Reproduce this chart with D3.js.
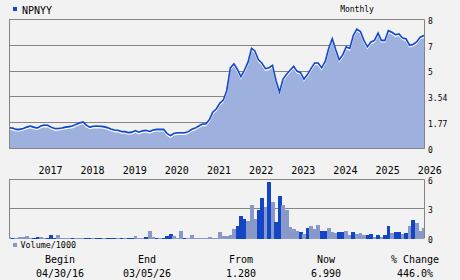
<!DOCTYPE html>
<html><head><meta charset="utf-8">
<script src="https://cdn.jsdelivr.net/npm/d3@7"></script>
<style>
body{margin:0;background:#f2f2f2;}
svg{display:block;}
text{font-family:"DejaVu Sans Mono",monospace;fill:#000;}
</style>
</head><body><svg id="c" width="460" height="280"></svg>
<script>
const symbol = "NPNYY";
const periodLabel = "Monthly";
const startDate = "2016-04-30";
const endDate = "2026-03-05";
const priceValues = [
1.29,1.27,1.19,1.19,1.25,1.33,1.40,1.33,1.28,1.40,
1.46,1.45,1.33,1.24,1.24,1.28,1.33,1.36,1.40,1.50,
1.58,1.65,1.45,1.33,1.38,1.40,1.38,1.36,1.30,1.22,
1.15,1.14,1.06,1.05,0.99,1.02,1.12,1.02,1.10,1.13,
1.06,1.15,1.19,1.19,1.19,0.92,0.80,0.95,0.98,0.98,
0.98,1.05,1.20,1.27,1.40,1.52,1.52,1.80,2.25,2.45,
2.80,3.00,3.60,5.00,5.25,4.90,4.45,4.85,5.35,6.20,
6.05,5.50,5.30,4.95,5.00,5.15,4.20,3.50,4.30,4.60,
4.85,5.10,4.80,4.70,4.30,4.60,4.95,5.30,5.30,5.00,
5.40,6.20,6.80,6.10,5.50,5.80,6.30,6.20,7.00,7.40,
7.25,6.70,6.30,6.60,6.70,7.15,6.70,6.70,7.30,7.20,
7.05,7.10,6.85,6.80,6.40,6.45,6.60,6.90,7.00
];
const volumeValues = [
0.17,0.10,0.07,0.12,0.17,0.27,0.05,0.10,0.20,0.17,
0.07,0.07,0.34,0.10,0.34,0.07,0.07,0.07,0.10,0.07,
0.07,0.07,0.10,0.10,0.07,0.10,0.10,0.05,0.10,0.07,
0.07,0.05,0.07,0.05,0.07,0.07,0.30,0.07,0.10,0.14,
0.75,0.14,0.10,0.05,0.07,0.27,0.50,0.27,0.07,0.75,
0.07,0.05,0.34,0.07,0.07,0.07,0.07,0.14,0.07,0.07,
0.61,0.27,0.27,0.34,1.00,1.29,2.24,2.03,1.73,3.42,
1.97,2.92,4.07,3.15,5.76,3.66,1.69,4.34,3.42,2.88,
1.12,0.95,0.78,0.68,0.44,1.02,1.22,0.95,1.42,0.78,
0.78,1.02,0.68,0.55,0.61,0.61,0.78,0.40,0.68,0.44,
0.58,0.34,0.37,0.47,0.20,0.37,0.17,0.37,1.29,0.54,
0.68,0.68,0.41,0.51,1.29,1.90,1.53,0.78,1.02
];
const volumeDark = [
0,1,0,0,0,0,0,1,1,0,
0,1,1,1,0,0,0,0,1,0,
0,0,1,1,0,1,1,0,1,1,
1,0,1,0,1,1,0,0,0,1,
0,0,1,0,1,1,1,0,0,0,
1,0,0,0,0,0,0,0,0,0,
0,0,0,0,0,1,1,1,0,0,
0,1,1,0,1,0,1,1,0,0,
0,0,0,1,0,1,0,0,0,1,
1,0,0,0,1,1,0,0,1,0,
0,0,1,1,0,1,0,1,1,0,
1,1,0,1,0,1,0,0,0
];
const yearLabels = ["2017","2018","2019","2020","2021","2022","2023","2024","2025","2026"];
const priceTickValues = [0,1.6,3.2,4.8,6.4,8];
const priceTickLabels = ["0","1.77","3.54","5","7","8"];
const volumeTickValues = [0,3,6];
const volumeTickLabels = ["0","3","6"];
const volumeLabel = "Volume/1000";
const footerHeads = ["Begin","End","From","Now","% Change"];
const footerValues = ["04/30/16","03/05/26","1.280","6.990","446.0%"];

const svg = d3.select("#c");
const C = {bg:"#f2f2f2", grid:"#858585", fill:"#9eb0dd", line:"#1448cc", dark:"#1346c6", light:"#8898c8"};
svg.append("rect").attr("width",460).attr("height",280).attr("fill",C.bg);

const parse = d3.timeParse("%Y-%m-%d");
const d0 = parse(startDate), d1 = parse(endDate);
const dates = priceValues.map((v,i)=>{
  if (i === priceValues.length-1) return d1;
  return d3.timeDay.offset(d3.timeMonth.offset(new Date(2016,4,1), i), -1);
});
const L = 9, R = 424;
const x = d3.scaleTime().domain([d0,d1]).range([L,R]);
const y = d3.scaleLinear().domain([0,8]).range([148.6,19.4]);
const yv = d3.scaleLinear().domain([0,6]).range([238.5,179.4]);
const snap = v => Math.round(v-0.5)+0.5;

// price grid
const gP = svg.append("g");
priceTickValues.slice(1,5).forEach(t=>{
  gP.append("line").attr("x1",L).attr("x2",R).attr("y1",snap(y(t))).attr("y2",snap(y(t)))
    .attr("stroke",C.grid).attr("stroke-width",1);
});
// area
const pts = priceValues.map((v,i)=>({d:dates[i],v}));
const area = d3.area().x(p=>x(p.d)).y0(y(0)).y1(p=>y(p.v));
svg.append("path").datum(pts).attr("d",area).attr("fill",C.fill);
const line = d3.line().x(p=>x(p.d)).y(p=>y(p.v));
svg.append("path").datum(pts).attr("d",line).attr("fill","none").attr("stroke","#fff")
  .attr("stroke-width",1.2).attr("transform","translate(0,1.6)");
svg.append("path").datum(pts).attr("d",line).attr("fill","none").attr("stroke",C.line)
  .attr("stroke-width",1.6).attr("stroke-linejoin","miter");

// price frame
const fr = svg.append("g").attr("stroke",C.grid).attr("stroke-width",1).attr("fill","none");
fr.append("line").attr("x1",L).attr("x2",R+0.5).attr("y1",snap(y(8))).attr("y2",snap(y(8)));
fr.append("line").attr("x1",L).attr("x2",R+0.5).attr("y1",snap(y(0))).attr("y2",snap(y(0)));
fr.append("line").attr("x1",L+0.5).attr("x2",L+0.5).attr("y1",snap(y(8))).attr("y2",snap(y(0)));
fr.append("line").attr("x1",R+0.5).attr("x2",R+0.5).attr("y1",snap(y(8))).attr("y2",snap(y(0)));

// price axis labels
priceTickValues.forEach((t,i)=>{
  svg.append("text").attr("x",428).attr("y",y(t)+4.3).attr("font-size",8).text(priceTickLabels[i]);
});
// year labels
yearLabels.forEach(s=>{
  const d = new Date(+s,0,1);
  svg.append("text").attr("x",x(d)+1).attr("y",174).attr("font-size",10).text(s);
});

// volume
const gV = svg.append("g");
gV.append("line").attr("x1",L).attr("x2",R).attr("y1",snap(yv(3))).attr("y2",snap(yv(3)))
  .attr("stroke",C.grid);
svg.append("clipPath").attr("id","vc").append("rect").attr("x",L+1).attr("y",170).attr("width",R-L-1).attr("height",70);
const bw = (R-L)/(priceValues.length-1);
gV.append("g").attr("clip-path","url(#vc)").selectAll("rect").data(volumeValues).join("rect")
  .attr("x",(v,i)=>x(dates[i])-bw/2).attr("width",bw+0.3)
  .attr("y",v=>yv(v)).attr("height",v=>yv(0)-yv(v))
  .attr("fill",(v,i)=>volumeDark[i]?C.dark:C.light)
  .attr("shape-rendering","crispEdges");
const fv = svg.append("g").attr("stroke",C.grid).attr("fill","none");
fv.append("line").attr("x1",L).attr("x2",R+0.5).attr("y1",snap(yv(6))).attr("y2",snap(yv(6)));
fv.append("line").attr("x1",L+0.5).attr("x2",L+0.5).attr("y1",snap(yv(6))).attr("y2",yv(0));
fv.append("line").attr("x1",R+0.5).attr("x2",R+0.5).attr("y1",snap(yv(6))).attr("y2",yv(0));
volumeTickValues.forEach((t,i)=>{
  svg.append("text").attr("x",428).attr("y",yv(t)+4.3).attr("font-size",8).text(volumeTickLabels[i]);
});

// legends
svg.append("rect").attr("x",13).attr("y",7).attr("width",4).attr("height",4).attr("fill",C.line);
svg.append("text").attr("x",22).attr("y",13.5).attr("font-size",10).text(symbol);
svg.append("text").attr("x",357).attr("y",12).attr("font-size",8).attr("text-anchor","middle").text(periodLabel);
svg.append("rect").attr("x",13).attr("y",243).attr("width",4).attr("height",4).attr("fill",C.light);
svg.append("text").attr("x",20.5).attr("y",247.5).attr("font-size",8.4).text(volumeLabel);

// footer
const fx = [60,147,241,326,415];
footerHeads.forEach((h,i)=>{
  svg.append("text").attr("x",fx[i]).attr("y",263).attr("font-size",10).attr("text-anchor","middle").text(h);
  svg.append("text").attr("x",fx[i]).attr("y",276.5).attr("font-size",10).attr("text-anchor","middle").text(footerValues[i]);
});
</script>
</body></html>
